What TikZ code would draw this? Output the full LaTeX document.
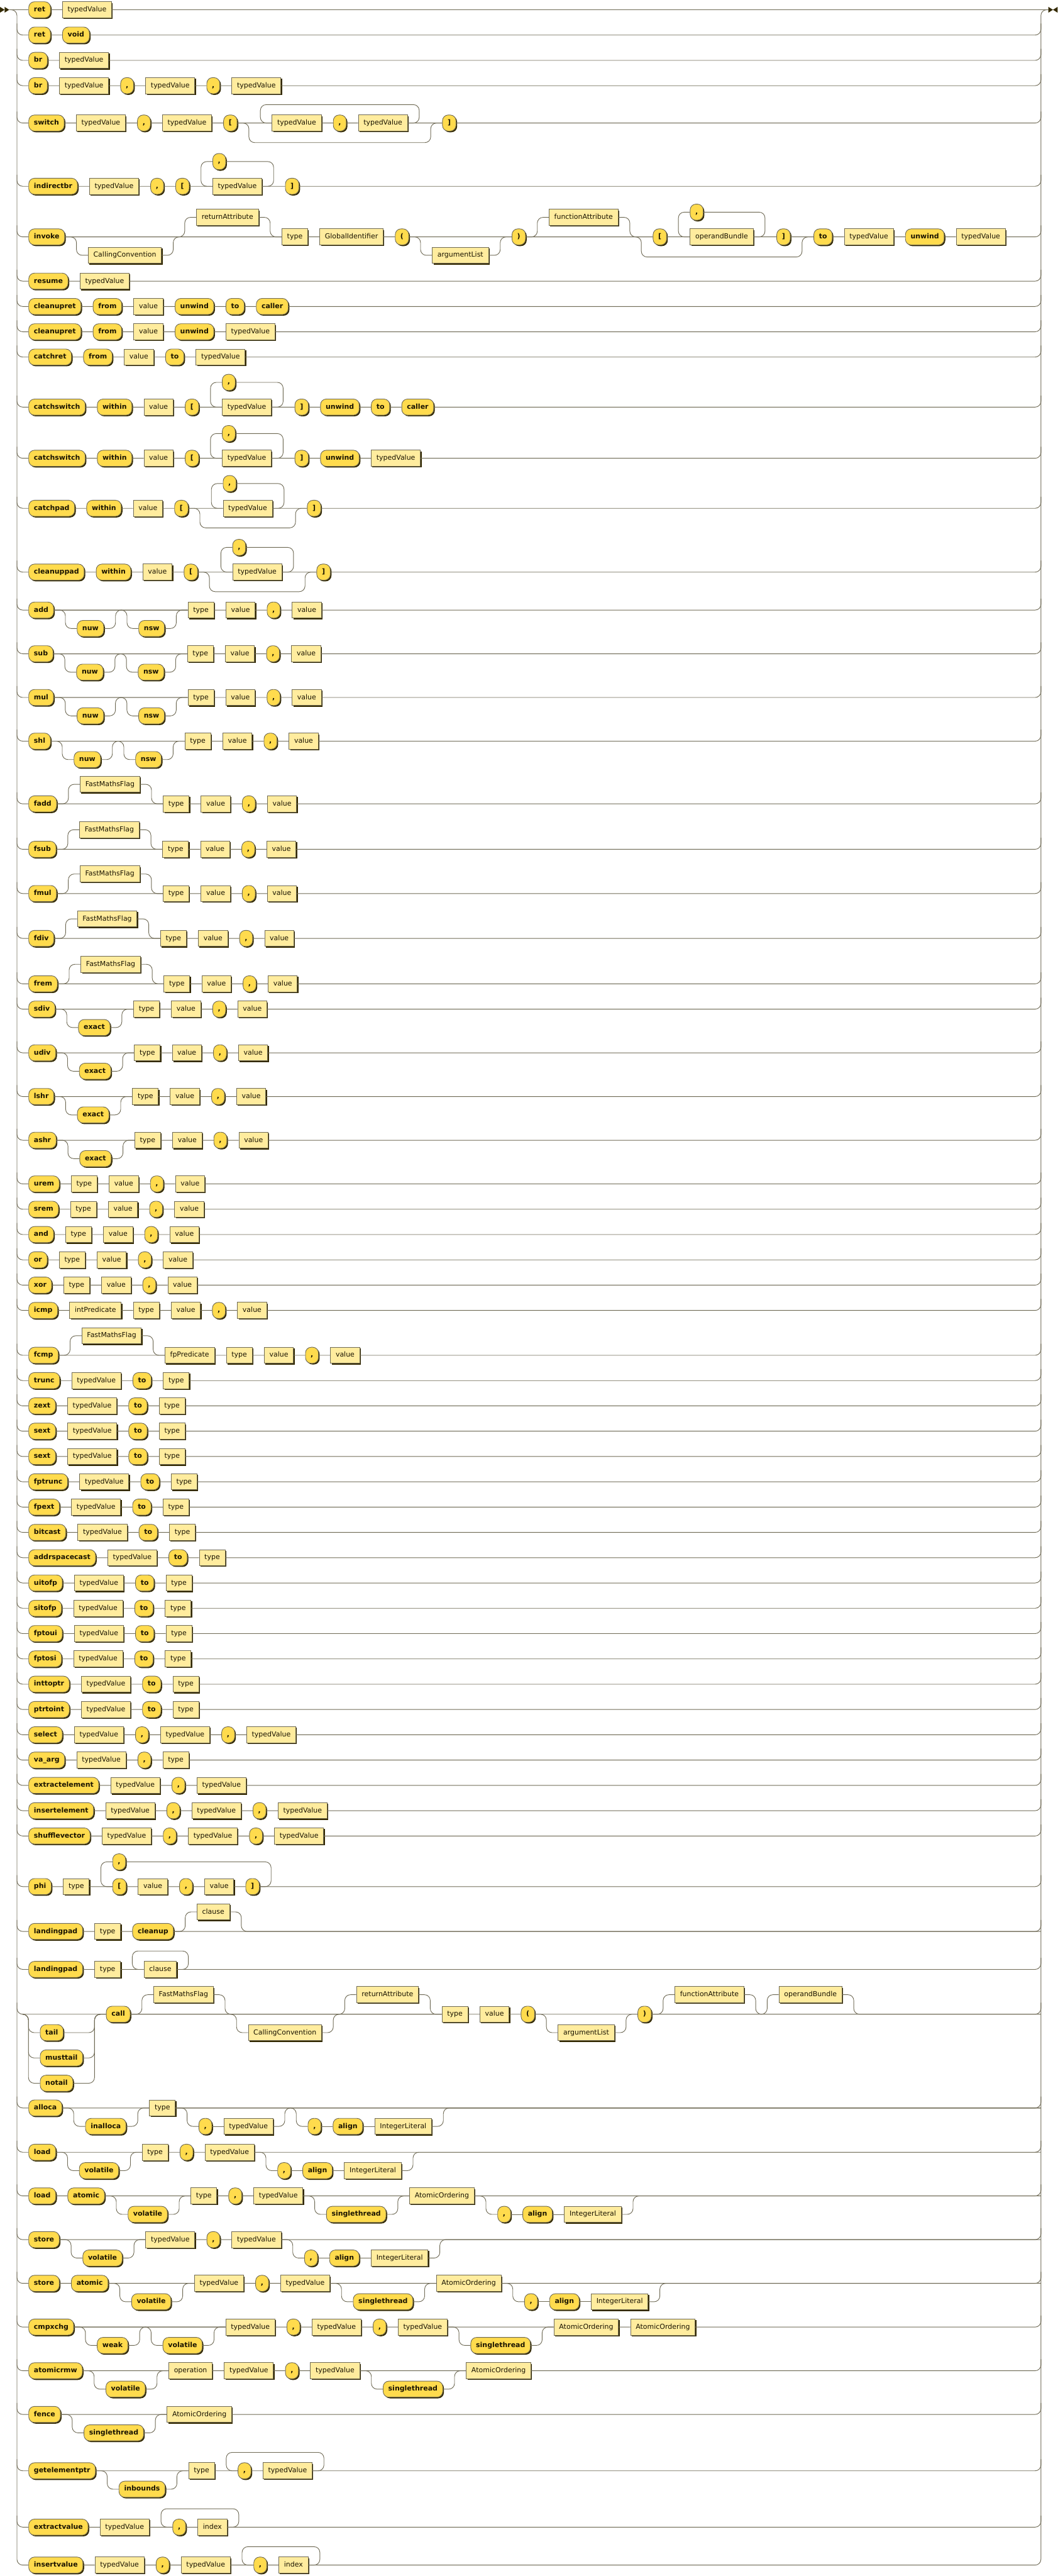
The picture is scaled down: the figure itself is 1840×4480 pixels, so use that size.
\documentclass[tikz,border=0pt]{standalone}
\usepackage{fontspec}
\setmainfont{DejaVu Sans}
\usepackage{xcolor}
\usetikzlibrary{positioning, shadows}
\definecolor{termfill}{HTML}{FFDB4D}
\definecolor{ntfill}{HTML}{FFEC9E}
\definecolor{trackcol}{HTML}{6F6A55}
\definecolor{shadowcol}{HTML}{332900}
\definecolor{labelcol}{HTML}{1A1400}
\tikzset{
  terminal/.style={rectangle, draw=trackcol, fill=termfill, rounded corners=10pt,
                   line width=1pt, minimum height=28pt, minimum width=22pt,
                   inner xsep=9pt, text height=9pt, text depth=2.5pt, text=labelcol,
                   font=\fontsize{12pt}{14pt}\selectfont\bfseries,
                   drop shadow={shadow xshift=2pt, shadow yshift=-2pt, opacity=1, fill=shadowcol}},
  nonterminal/.style={rectangle, draw=trackcol, fill=ntfill,
                   line width=1pt, minimum height=28pt, minimum width=22pt,
                   inner xsep=9pt, text height=9pt, text depth=2.5pt, text=labelcol,
                   font=\fontsize{12pt}{14pt}\selectfont,
                   drop shadow={shadow xshift=2pt, shadow yshift=-2pt, opacity=1, fill=shadowcol}},
  track/.style={draw=trackcol, line width=1pt, rounded corners=10pt},
  marker/.style={fill=shadowcol},
}
\newcommand{\firstnode}[4]{\node[#1, anchor=west] (#2) at (49.5,#3) {#4};}
\newcommand{\kw}[3]{\node[terminal, right=of #2] (#1) {#3};}
\newcommand{\nt}[3]{\node[nonterminal, right=of #2] (#1) {#3};}
% optional item: split off the main line, join back
\newcommand{\optsplit}[2]{\draw[track] (#1.east) -- ([xshift=-20pt]#2.west |- #1) |- (#2.west);}
\newcommand{\optjoin}[2]{\draw[track] (#1.east) -| ([xshift=20pt]#1.east |- #2) -- (#2);}
% repetition: with separator on top, or empty return path
\newcommand{\loopsep}[3]{\draw[track] (#2.east) -- ++(20,0) |- (#3.east);
  \draw[track] (#3.west) -- ++(-20,0) |- (#1.west);}
\newcommand{\loopback}[2]{\draw[track] (#2.east) -- ++(20,0) -- ++(0,-32) -| ([xshift=-20pt]#1.west) -- (#1.west);}
\newcommand{\skipunder}[2]{\draw[track] (#1.east) -- ++(20,0) -- ++(0,34) -| ([xshift=-20pt]#2.west) -- (#2.west);}

\begin{document}
\begin{tikzpicture}[x=1pt, y=-1pt, node distance=20pt]
\useasboundingbox[fill=white] (0,0) rectangle (1840,4480);

\coordinate (begin) at (16,17);
\coordinate (end) at (1824,17);
\fill[marker] (0,12) -- (8,17) -- (0,22) -- cycle;
\fill[marker] (8,12) -- (16,17) -- (8,22) -- cycle;
\fill[marker] (1824,12) -- (1832,17) -- (1824,22) -- cycle;
\fill[marker] (1840,12) -- (1832,17) -- (1840,22) -- cycle;

% ret / br / switch
\firstnode{terminal}{r01a}{17}{ret}
\nt{r01b}{r01a}{typedValue}
\draw[track] (begin) -- (r01a) -- (r01b) -- (end);

\firstnode{terminal}{r02a}{61}{ret}
\kw{r02b}{r02a}{void}
\draw[track] (29.5,61-20) |- (r02a) -- (r02b) -| (1811,61-20);

\firstnode{terminal}{r03a}{105}{br}
\nt{r03b}{r03a}{typedValue}
\draw[track] (29.5,105-20) |- (r03a) -- (r03b) -| (1811,105-20);

\firstnode{terminal}{r04a}{149}{br}
\nt{r04b}{r04a}{typedValue}
\kw{r04c}{r04b}{,}
\nt{r04d}{r04c}{typedValue}
\kw{r04e}{r04d}{,}
\nt{r04f}{r04e}{typedValue}
\draw[track] (29.5,149-20) |- (r04a) -- (r04b) -- (r04c) -- (r04d) -- (r04e) -- (r04f) -| (1811,149-20);

\firstnode{terminal}{r05a}{214}{switch}
\nt{r05b}{r05a}{typedValue}
\kw{r05c}{r05b}{,}
\nt{r05d}{r05c}{typedValue}
\kw{r05e}{r05d}{[}
\node[nonterminal, right=60pt of r05e] (r05f) {typedValue};
\kw{r05g}{r05f}{,}
\nt{r05h}{r05g}{typedValue}
\node[terminal, right=60pt of r05h] (r05i) {]};
\draw[track] (29.5,214-20) |- (r05a) -- (r05b) -- (r05c) -- (r05d) -- (r05e) -- (r05f) -- (r05g) -- (r05h) -- (r05i) -| (1811,214-20);
\loopback{r05f}{r05h}
\skipunder{r05e}{r05i}

\firstnode{terminal}{r06a}{324}{indirectbr}
\nt{r06b}{r06a}{typedValue}
\kw{r06c}{r06b}{,}
\kw{r06d}{r06c}{[}
\node[nonterminal, right=40pt of r06d] (r06e) {typedValue};
\node[terminal, anchor=west] (r06f) at ([yshift=43pt]r06e.west) {,};
\node[terminal, right=40pt of r06e] (r06g) {]};
\draw[track] (29.5,324-20) |- (r06a) -- (r06b) -- (r06c) -- (r06d) -- (r06e) -- (r06g) -| (1811,324-20);
\loopsep{r06e}{r06e}{r06f}

% invoke
\firstnode{terminal}{r07a}{412}{invoke}
\node[nonterminal, right=40pt of r07a, yshift=-32pt] (r07b) {CallingConvention};
\node[nonterminal, right=60pt of r07b, yshift=66pt] (r07c) {returnAttribute};
\node[nonterminal, right=40pt of r07c, yshift=-34pt] (r07d) {type};
\nt{r07e}{r07d}{GlobalIdentifier}
\kw{r07f}{r07e}{(}
\node[nonterminal, right=40pt of r07f, yshift=-32pt] (r07g) {argumentList};
\node[terminal, right=40pt of r07g, yshift=32pt] (r07h) {)};
\node[nonterminal, right=40pt of r07h, yshift=34pt] (r07i) {functionAttribute};
\node[terminal, right=60pt of r07i, yshift=-34pt] (r07j) {[};
\node[nonterminal, right=40pt of r07j] (r07k) {operandBundle};
\node[terminal, anchor=west] (r07l) at ([yshift=43pt]r07k.west) {,};
\node[terminal, right=40pt of r07k] (r07m) {]};
\node[terminal, right=40pt of r07m] (r07n) {to};
\nt{r07o}{r07n}{typedValue}
\kw{r07p}{r07o}{unwind}
\nt{r07q}{r07p}{typedValue}
\draw[track] (29.5,412-20) |- (r07a) -- (r07d) -- (r07e) -- (r07f) -- (r07h) -- (r07j) -- (r07k) -- (r07m) -- (r07n) -- (r07o) -- (r07p) -- (r07q) -| (1811,412-20);
\optsplit{r07a}{r07b}\optjoin{r07b}{r07d}
\optsplit{r07a}{r07c}\optjoin{r07c}{r07d}
\optsplit{r07f}{r07g}\optjoin{r07g}{r07h}
\optsplit{r07h}{r07i}\optjoin{r07i}{r07j}
\loopsep{r07k}{r07k}{r07l}
\draw[track] (r07h.east) -- ([xshift=-20pt]r07j.west |- r07h) -- ++(0,35) -| ([xshift=20pt]r07m.east) -- (r07n.west);

% resume / cleanupret / catchret
\firstnode{terminal}{r08a}{489}{resume}
\nt{r08b}{r08a}{typedValue}
\draw[track] (29.5,489-20) |- (r08a) -- (r08b) -| (1811,489-20);

\firstnode{terminal}{r09a}{533}{cleanupret}
\kw{r09b}{r09a}{from}
\nt{r09c}{r09b}{value}
\kw{r09d}{r09c}{unwind}
\kw{r09e}{r09d}{to}
\kw{r09f}{r09e}{caller}
\draw[track] (29.5,533-20) |- (r09a) -- (r09b) -- (r09c) -- (r09d) -- (r09e) -- (r09f) -| (1811,533-20);

\firstnode{terminal}{r10a}{577}{cleanupret}
\kw{r10b}{r10a}{from}
\nt{r10c}{r10b}{value}
\kw{r10d}{r10c}{unwind}
\nt{r10e}{r10d}{typedValue}
\draw[track] (29.5,577-20) |- (r10a) -- (r10b) -- (r10c) -- (r10d) -- (r10e) -| (1811,577-20);

\firstnode{terminal}{r11a}{621}{catchret}
\kw{r11b}{r11a}{from}
\nt{r11c}{r11b}{value}
\kw{r11d}{r11c}{to}
\nt{r11e}{r11d}{typedValue}
\draw[track] (29.5,621-20) |- (r11a) -- (r11b) -- (r11c) -- (r11d) -- (r11e) -| (1811,621-20);

% catchswitch / catchpad / cleanuppad
\firstnode{terminal}{r12a}{708}{catchswitch}
\kw{r12b}{r12a}{within}
\nt{r12c}{r12b}{value}
\kw{r12d}{r12c}{[}
\node[nonterminal, right=40pt of r12d] (r12e) {typedValue};
\node[terminal, anchor=west] (r12f) at ([yshift=43pt]r12e.west) {,};
\node[terminal, right=40pt of r12e] (r12g) {]};
\kw{r12h}{r12g}{unwind}
\kw{r12i}{r12h}{to}
\kw{r12j}{r12i}{caller}
\draw[track] (29.5,708-20) |- (r12a) -- (r12b) -- (r12c) -- (r12d) -- (r12e) -- (r12g) -- (r12h) -- (r12i) -- (r12j) -| (1811,708-20);
\loopsep{r12e}{r12e}{r12f}

\firstnode{terminal}{r13a}{797}{catchswitch}
\kw{r13b}{r13a}{within}
\nt{r13c}{r13b}{value}
\kw{r13d}{r13c}{[}
\node[nonterminal, right=40pt of r13d] (r13e) {typedValue};
\node[terminal, anchor=west] (r13f) at ([yshift=43pt]r13e.west) {,};
\node[terminal, right=40pt of r13e] (r13g) {]};
\kw{r13h}{r13g}{unwind}
\nt{r13i}{r13h}{typedValue}
\draw[track] (29.5,797-20) |- (r13a) -- (r13b) -- (r13c) -- (r13d) -- (r13e) -- (r13g) -- (r13h) -- (r13i) -| (1811,797-20);
\loopsep{r13e}{r13e}{r13f}

\firstnode{terminal}{r14a}{884}{catchpad}
\kw{r14b}{r14a}{within}
\nt{r14c}{r14b}{value}
\kw{r14d}{r14c}{[}
\node[nonterminal, right=60pt of r14d] (r14e) {typedValue};
\node[terminal, anchor=west] (r14f) at ([yshift=43pt]r14e.west) {,};
\node[terminal, right=60pt of r14e] (r14g) {]};
\draw[track] (29.5,884-20) |- (r14a) -- (r14b) -- (r14c) -- (r14d) -- (r14e) -- (r14g) -| (1811,884-20);
\loopsep{r14e}{r14e}{r14f}
\skipunder{r14d}{r14g}

\firstnode{terminal}{r15a}{995}{cleanuppad}
\kw{r15b}{r15a}{within}
\nt{r15c}{r15b}{value}
\kw{r15d}{r15c}{[}
\node[nonterminal, right=60pt of r15d] (r15e) {typedValue};
\node[terminal, anchor=west] (r15f) at ([yshift=43pt]r15e.west) {,};
\node[terminal, right=60pt of r15e] (r15g) {]};
\draw[track] (29.5,995-20) |- (r15a) -- (r15b) -- (r15c) -- (r15d) -- (r15e) -- (r15g) -| (1811,995-20);
\loopsep{r15e}{r15e}{r15f}
\skipunder{r15d}{r15g}

% integer arithmetic
\firstnode{terminal}{r16a}{1061}{add}
\node[terminal, right=40pt of r16a, yshift=-32pt] (r16b) {nuw};
\node[terminal, right=60pt of r16b] (r16c) {nsw};
\node[nonterminal, right=40pt of r16c, yshift=32pt] (r16d) {type};
\nt{r16e}{r16d}{value}
\kw{r16f}{r16e}{,}
\nt{r16g}{r16f}{value}
\draw[track] (29.5,1061-20) |- (r16a) -- (r16d) -- (r16e) -- (r16f) -- (r16g) -| (1811,1061-20);
\optsplit{r16a}{r16b}\optjoin{r16b}{r16d}\optsplit{r16a}{r16c}\optjoin{r16c}{r16d}

\firstnode{terminal}{r17a}{1137}{sub}
\node[terminal, right=40pt of r17a, yshift=-32pt] (r17b) {nuw};
\node[terminal, right=60pt of r17b] (r17c) {nsw};
\node[nonterminal, right=40pt of r17c, yshift=32pt] (r17d) {type};
\nt{r17e}{r17d}{value}
\kw{r17f}{r17e}{,}
\nt{r17g}{r17f}{value}
\draw[track] (29.5,1137-20) |- (r17a) -- (r17d) -- (r17e) -- (r17f) -- (r17g) -| (1811,1137-20);
\optsplit{r17a}{r17b}\optjoin{r17b}{r17d}\optsplit{r17a}{r17c}\optjoin{r17c}{r17d}

\firstnode{terminal}{r18a}{1213}{mul}
\node[terminal, right=40pt of r18a, yshift=-32pt] (r18b) {nuw};
\node[terminal, right=60pt of r18b] (r18c) {nsw};
\node[nonterminal, right=40pt of r18c, yshift=32pt] (r18d) {type};
\nt{r18e}{r18d}{value}
\kw{r18f}{r18e}{,}
\nt{r18g}{r18f}{value}
\draw[track] (29.5,1213-20) |- (r18a) -- (r18d) -- (r18e) -- (r18f) -- (r18g) -| (1811,1213-20);
\optsplit{r18a}{r18b}\optjoin{r18b}{r18d}\optsplit{r18a}{r18c}\optjoin{r18c}{r18d}

\firstnode{terminal}{r19a}{1289}{shl}
\node[terminal, right=40pt of r19a, yshift=-32pt] (r19b) {nuw};
\node[terminal, right=60pt of r19b] (r19c) {nsw};
\node[nonterminal, right=40pt of r19c, yshift=32pt] (r19d) {type};
\nt{r19e}{r19d}{value}
\kw{r19f}{r19e}{,}
\nt{r19g}{r19f}{value}
\draw[track] (29.5,1289-20) |- (r19a) -- (r19d) -- (r19e) -- (r19f) -- (r19g) -| (1811,1289-20);
\optsplit{r19a}{r19b}\optjoin{r19b}{r19d}\optsplit{r19a}{r19c}\optjoin{r19c}{r19d}

% floating point arithmetic
\firstnode{terminal}{r20a}{1398}{fadd}
\node[nonterminal, right=40pt of r20a, yshift=34pt] (r20b) {FastMathsFlag};
\node[nonterminal, right=40pt of r20b, yshift=-34pt] (r20c) {type};
\nt{r20d}{r20c}{value}
\kw{r20e}{r20d}{,}
\nt{r20f}{r20e}{value}
\draw[track] (29.5,1398-20) |- (r20a) -- (r20c) -- (r20d) -- (r20e) -- (r20f) -| (1811,1398-20);
\optsplit{r20a}{r20b}\optjoin{r20b}{r20c}

\firstnode{terminal}{r21a}{1477}{fsub}
\node[nonterminal, right=40pt of r21a, yshift=34pt] (r21b) {FastMathsFlag};
\node[nonterminal, right=40pt of r21b, yshift=-34pt] (r21c) {type};
\nt{r21d}{r21c}{value}
\kw{r21e}{r21d}{,}
\nt{r21f}{r21e}{value}
\draw[track] (29.5,1477-20) |- (r21a) -- (r21c) -- (r21d) -- (r21e) -- (r21f) -| (1811,1477-20);
\optsplit{r21a}{r21b}\optjoin{r21b}{r21c}

\firstnode{terminal}{r22a}{1554}{fmul}
\node[nonterminal, right=40pt of r22a, yshift=34pt] (r22b) {FastMathsFlag};
\node[nonterminal, right=40pt of r22b, yshift=-34pt] (r22c) {type};
\nt{r22d}{r22c}{value}
\kw{r22e}{r22d}{,}
\nt{r22f}{r22e}{value}
\draw[track] (29.5,1554-20) |- (r22a) -- (r22c) -- (r22d) -- (r22e) -- (r22f) -| (1811,1554-20);
\optsplit{r22a}{r22b}\optjoin{r22b}{r22c}

\firstnode{terminal}{r23a}{1632}{fdiv}
\node[nonterminal, right=40pt of r23a, yshift=34pt] (r23b) {FastMathsFlag};
\node[nonterminal, right=40pt of r23b, yshift=-34pt] (r23c) {type};
\nt{r23d}{r23c}{value}
\kw{r23e}{r23d}{,}
\nt{r23f}{r23e}{value}
\draw[track] (29.5,1632-20) |- (r23a) -- (r23c) -- (r23d) -- (r23e) -- (r23f) -| (1811,1632-20);
\optsplit{r23a}{r23b}\optjoin{r23b}{r23c}

\firstnode{terminal}{r24a}{1711}{frem}
\node[nonterminal, right=40pt of r24a, yshift=34pt] (r24b) {FastMathsFlag};
\node[nonterminal, right=40pt of r24b, yshift=-34pt] (r24c) {type};
\nt{r24d}{r24c}{value}
\kw{r24e}{r24d}{,}
\nt{r24f}{r24e}{value}
\draw[track] (29.5,1711-20) |- (r24a) -- (r24c) -- (r24d) -- (r24e) -- (r24f) -| (1811,1711-20);
\optsplit{r24a}{r24b}\optjoin{r24b}{r24c}

% division and shifts
\firstnode{terminal}{r25a}{1755}{sdiv}
\node[terminal, right=40pt of r25a, yshift=-32pt] (r25b) {exact};
\node[nonterminal, right=40pt of r25b, yshift=32pt] (r25c) {type};
\nt{r25d}{r25c}{value}
\kw{r25e}{r25d}{,}
\nt{r25f}{r25e}{value}
\draw[track] (29.5,1755-20) |- (r25a) -- (r25c) -- (r25d) -- (r25e) -- (r25f) -| (1811,1755-20);
\optsplit{r25a}{r25b}\optjoin{r25b}{r25c}

\firstnode{terminal}{r26a}{1831}{udiv}
\node[terminal, right=40pt of r26a, yshift=-32pt] (r26b) {exact};
\node[nonterminal, right=40pt of r26b, yshift=32pt] (r26c) {type};
\nt{r26d}{r26c}{value}
\kw{r26e}{r26d}{,}
\nt{r26f}{r26e}{value}
\draw[track] (29.5,1831-20) |- (r26a) -- (r26c) -- (r26d) -- (r26e) -- (r26f) -| (1811,1831-20);
\optsplit{r26a}{r26b}\optjoin{r26b}{r26c}

\firstnode{terminal}{r27a}{1907}{lshr}
\node[terminal, right=40pt of r27a, yshift=-32pt] (r27b) {exact};
\node[nonterminal, right=40pt of r27b, yshift=32pt] (r27c) {type};
\nt{r27d}{r27c}{value}
\kw{r27e}{r27d}{,}
\nt{r27f}{r27e}{value}
\draw[track] (29.5,1907-20) |- (r27a) -- (r27c) -- (r27d) -- (r27e) -- (r27f) -| (1811,1907-20);
\optsplit{r27a}{r27b}\optjoin{r27b}{r27c}

\firstnode{terminal}{r28a}{1983}{ashr}
\node[terminal, right=40pt of r28a, yshift=-32pt] (r28b) {exact};
\node[nonterminal, right=40pt of r28b, yshift=32pt] (r28c) {type};
\nt{r28d}{r28c}{value}
\kw{r28e}{r28d}{,}
\nt{r28f}{r28e}{value}
\draw[track] (29.5,1983-20) |- (r28a) -- (r28c) -- (r28d) -- (r28e) -- (r28f) -| (1811,1983-20);
\optsplit{r28a}{r28b}\optjoin{r28b}{r28c}

% remainder and bitwise
\firstnode{terminal}{r29a}{2059}{urem}
\nt{r29b}{r29a}{type}
\nt{r29c}{r29b}{value}
\kw{r29d}{r29c}{,}
\nt{r29e}{r29d}{value}
\draw[track] (29.5,2059-20) |- (r29a) -- (r29b) -- (r29c) -- (r29d) -- (r29e) -| (1811,2059-20);

\firstnode{terminal}{r30a}{2103}{srem}
\nt{r30b}{r30a}{type}
\nt{r30c}{r30b}{value}
\kw{r30d}{r30c}{,}
\nt{r30e}{r30d}{value}
\draw[track] (29.5,2103-20) |- (r30a) -- (r30b) -- (r30c) -- (r30d) -- (r30e) -| (1811,2103-20);

\firstnode{terminal}{r31a}{2147}{and}
\nt{r31b}{r31a}{type}
\nt{r31c}{r31b}{value}
\kw{r31d}{r31c}{,}
\nt{r31e}{r31d}{value}
\draw[track] (29.5,2147-20) |- (r31a) -- (r31b) -- (r31c) -- (r31d) -- (r31e) -| (1811,2147-20);

\firstnode{terminal}{r32a}{2191}{or}
\nt{r32b}{r32a}{type}
\nt{r32c}{r32b}{value}
\kw{r32d}{r32c}{,}
\nt{r32e}{r32d}{value}
\draw[track] (29.5,2191-20) |- (r32a) -- (r32b) -- (r32c) -- (r32d) -- (r32e) -| (1811,2191-20);

\firstnode{terminal}{r33a}{2235}{xor}
\nt{r33b}{r33a}{type}
\nt{r33c}{r33b}{value}
\kw{r33d}{r33c}{,}
\nt{r33e}{r33d}{value}
\draw[track] (29.5,2235-20) |- (r33a) -- (r33b) -- (r33c) -- (r33d) -- (r33e) -| (1811,2235-20);

% compare
\firstnode{terminal}{r34a}{2279}{icmp}
\nt{r34b}{r34a}{intPredicate}
\nt{r34c}{r34b}{type}
\nt{r34d}{r34c}{value}
\kw{r34e}{r34d}{,}
\nt{r34f}{r34e}{value}
\draw[track] (29.5,2279-20) |- (r34a) -- (r34b) -- (r34c) -- (r34d) -- (r34e) -- (r34f) -| (1811,2279-20);

\firstnode{terminal}{r35a}{2357}{fcmp}
\node[nonterminal, right=40pt of r35a, yshift=34pt] (r35b) {FastMathsFlag};
\node[nonterminal, right=40pt of r35b, yshift=-34pt] (r35c) {fpPredicate};
\nt{r35d}{r35c}{type}
\nt{r35e}{r35d}{value}
\kw{r35f}{r35e}{,}
\nt{r35g}{r35f}{value}
\draw[track] (29.5,2357-20) |- (r35a) -- (r35c) -- (r35d) -- (r35e) -- (r35f) -- (r35g) -| (1811,2357-20);
\optsplit{r35a}{r35b}\optjoin{r35b}{r35c}

% conversions
\firstnode{terminal}{r36a}{2401}{trunc}
\nt{r36b}{r36a}{typedValue}
\kw{r36c}{r36b}{to}
\nt{r36d}{r36c}{type}
\draw[track] (29.5,2401-20) |- (r36a) -- (r36b) -- (r36c) -- (r36d) -| (1811,2401-20);

\firstnode{terminal}{r37a}{2445}{zext}
\nt{r37b}{r37a}{typedValue}
\kw{r37c}{r37b}{to}
\nt{r37d}{r37c}{type}
\draw[track] (29.5,2445-20) |- (r37a) -- (r37b) -- (r37c) -- (r37d) -| (1811,2445-20);

\firstnode{terminal}{r38a}{2489}{sext}
\nt{r38b}{r38a}{typedValue}
\kw{r38c}{r38b}{to}
\nt{r38d}{r38c}{type}
\draw[track] (29.5,2489-20) |- (r38a) -- (r38b) -- (r38c) -- (r38d) -| (1811,2489-20);

\firstnode{terminal}{r39a}{2533}{sext}
\nt{r39b}{r39a}{typedValue}
\kw{r39c}{r39b}{to}
\nt{r39d}{r39c}{type}
\draw[track] (29.5,2533-20) |- (r39a) -- (r39b) -- (r39c) -- (r39d) -| (1811,2533-20);

\firstnode{terminal}{r40a}{2577}{fptrunc}
\nt{r40b}{r40a}{typedValue}
\kw{r40c}{r40b}{to}
\nt{r40d}{r40c}{type}
\draw[track] (29.5,2577-20) |- (r40a) -- (r40b) -- (r40c) -- (r40d) -| (1811,2577-20);

\firstnode{terminal}{r41a}{2621}{fpext}
\nt{r41b}{r41a}{typedValue}
\kw{r41c}{r41b}{to}
\nt{r41d}{r41c}{type}
\draw[track] (29.5,2621-20) |- (r41a) -- (r41b) -- (r41c) -- (r41d) -| (1811,2621-20);

\firstnode{terminal}{r42a}{2665}{bitcast}
\nt{r42b}{r42a}{typedValue}
\kw{r42c}{r42b}{to}
\nt{r42d}{r42c}{type}
\draw[track] (29.5,2665-20) |- (r42a) -- (r42b) -- (r42c) -- (r42d) -| (1811,2665-20);

\firstnode{terminal}{r43a}{2709}{addrspacecast}
\nt{r43b}{r43a}{typedValue}
\kw{r43c}{r43b}{to}
\nt{r43d}{r43c}{type}
\draw[track] (29.5,2709-20) |- (r43a) -- (r43b) -- (r43c) -- (r43d) -| (1811,2709-20);

\firstnode{terminal}{r44a}{2753}{uitofp}
\nt{r44b}{r44a}{typedValue}
\kw{r44c}{r44b}{to}
\nt{r44d}{r44c}{type}
\draw[track] (29.5,2753-20) |- (r44a) -- (r44b) -- (r44c) -- (r44d) -| (1811,2753-20);

\firstnode{terminal}{r45a}{2797}{sitofp}
\nt{r45b}{r45a}{typedValue}
\kw{r45c}{r45b}{to}
\nt{r45d}{r45c}{type}
\draw[track] (29.5,2797-20) |- (r45a) -- (r45b) -- (r45c) -- (r45d) -| (1811,2797-20);

\firstnode{terminal}{r46a}{2841}{fptoui}
\nt{r46b}{r46a}{typedValue}
\kw{r46c}{r46b}{to}
\nt{r46d}{r46c}{type}
\draw[track] (29.5,2841-20) |- (r46a) -- (r46b) -- (r46c) -- (r46d) -| (1811,2841-20);

\firstnode{terminal}{r47a}{2885}{fptosi}
\nt{r47b}{r47a}{typedValue}
\kw{r47c}{r47b}{to}
\nt{r47d}{r47c}{type}
\draw[track] (29.5,2885-20) |- (r47a) -- (r47b) -- (r47c) -- (r47d) -| (1811,2885-20);

\firstnode{terminal}{r48a}{2929}{inttoptr}
\nt{r48b}{r48a}{typedValue}
\kw{r48c}{r48b}{to}
\nt{r48d}{r48c}{type}
\draw[track] (29.5,2929-20) |- (r48a) -- (r48b) -- (r48c) -- (r48d) -| (1811,2929-20);

\firstnode{terminal}{r49a}{2973}{ptrtoint}
\nt{r49b}{r49a}{typedValue}
\kw{r49c}{r49b}{to}
\nt{r49d}{r49c}{type}
\draw[track] (29.5,2973-20) |- (r49a) -- (r49b) -- (r49c) -- (r49d) -| (1811,2973-20);

% select / vector ops
\firstnode{terminal}{r50a}{3017}{select}
\nt{r50b}{r50a}{typedValue}
\kw{r50c}{r50b}{,}
\nt{r50d}{r50c}{typedValue}
\kw{r50e}{r50d}{,}
\nt{r50f}{r50e}{typedValue}
\draw[track] (29.5,3017-20) |- (r50a) -- (r50b) -- (r50c) -- (r50d) -- (r50e) -- (r50f) -| (1811,3017-20);

\firstnode{terminal}{r51a}{3061}{va\_arg}
\nt{r51b}{r51a}{typedValue}
\kw{r51c}{r51b}{,}
\nt{r51d}{r51c}{type}
\draw[track] (29.5,3061-20) |- (r51a) -- (r51b) -- (r51c) -- (r51d) -| (1811,3061-20);

\firstnode{terminal}{r52a}{3105}{extractelement}
\nt{r52b}{r52a}{typedValue}
\kw{r52c}{r52b}{,}
\nt{r52d}{r52c}{typedValue}
\draw[track] (29.5,3105-20) |- (r52a) -- (r52b) -- (r52c) -- (r52d) -| (1811,3105-20);

\firstnode{terminal}{r53a}{3149}{insertelement}
\nt{r53b}{r53a}{typedValue}
\kw{r53c}{r53b}{,}
\nt{r53d}{r53c}{typedValue}
\kw{r53e}{r53d}{,}
\nt{r53f}{r53e}{typedValue}
\draw[track] (29.5,3149-20) |- (r53a) -- (r53b) -- (r53c) -- (r53d) -- (r53e) -- (r53f) -| (1811,3149-20);

\firstnode{terminal}{r54a}{3193}{shufflevector}
\nt{r54b}{r54a}{typedValue}
\kw{r54c}{r54b}{,}
\nt{r54d}{r54c}{typedValue}
\kw{r54e}{r54d}{,}
\nt{r54f}{r54e}{typedValue}
\draw[track] (29.5,3193-20) |- (r54a) -- (r54b) -- (r54c) -- (r54d) -- (r54e) -- (r54f) -| (1811,3193-20);

% phi / landingpad
\firstnode{terminal}{r55a}{3281}{phi}
\nt{r55b}{r55a}{type}
\node[terminal, right=40pt of r55b] (r55c) {[};
\nt{r55d}{r55c}{value}
\kw{r55e}{r55d}{,}
\nt{r55f}{r55e}{value}
\kw{r55g}{r55f}{]}
\node[terminal, anchor=west] (r55h) at ([yshift=43pt]r55c.west) {,};
\draw[track] (29.5,3281-20) |- (r55a) -- (r55b) -- (r55c) -- (r55d) -- (r55e) -- (r55f) -- (r55g) -| (1811,3281-20);
\loopsep{r55c}{r55g}{r55h}

\firstnode{terminal}{r56a}{3359}{landingpad}
\nt{r56b}{r56a}{type}
\kw{r56c}{r56b}{cleanup}
\node[nonterminal, right=40pt of r56c, yshift=34pt] (r56d) {clause};
\coordinate (r56z) at (1811,3359);
\draw[track] (29.5,3359-20) |- (r56a) -- (r56b) -- (r56c) -| (1811,3359-20);
\optsplit{r56c}{r56d}\optjoin{r56d}{r56z}

\firstnode{terminal}{r57a}{3425}{landingpad}
\nt{r57b}{r57a}{type}
\node[nonterminal, right=40pt of r57b] (r57c) {clause};
\draw[track] (29.5,3425-20) |- (r57a) -- (r57b) -- (r57c) -| (1811,3425-20);
\loopback{r57c}{r57c}

% call
\node[terminal, anchor=west] (r58a) at (69.5,3535) {tail};
\node[terminal, anchor=west] (r58b) at (69.5,3579) {musttail};
\node[terminal, anchor=west] (r58c) at (69.5,3623) {notail};
\node[terminal, right=40pt of r58b, yshift=76pt] (r58d) {call};
\node[nonterminal, right=40pt of r58d, yshift=34pt] (r58e) {FastMathsFlag};
\node[nonterminal, right=60pt of r58e, yshift=-66pt] (r58f) {CallingConvention};
\node[nonterminal, right=60pt of r58f, yshift=66pt] (r58g) {returnAttribute};
\node[nonterminal, right=40pt of r58g, yshift=-34pt] (r58h) {type};
\nt{r58i}{r58h}{value}
\kw{r58j}{r58i}{(}
\node[nonterminal, right=40pt of r58j, yshift=-32pt] (r58k) {argumentList};
\node[terminal, right=40pt of r58k, yshift=32pt] (r58l) {)};
\node[nonterminal, right=40pt of r58l, yshift=34pt] (r58m) {functionAttribute};
\node[nonterminal, right=60pt of r58m] (r58n) {operandBundle};
\coordinate (r58z) at (1811,3503);
\draw[track] (29.5,3503-20) |- (r58d) -- (r58h) -- (r58i) -- (r58j) -- (r58l) -| (1811,3503-20);
\draw[track] (39.5,3503) -| ([xshift=-20pt]r58a.west) -- (r58a.west);
\draw[track] (39.5,3503) -| ([xshift=-20pt]r58b.west) -- (r58b.west);
\draw[track] (39.5,3503) -| ([xshift=-20pt]r58c.west) -- (r58c.west);
\draw[track] (r58a.east) -| ([xshift=20pt]r58b.east |- r58d) -- (r58d);
\draw[track] (r58b.east) -| ([xshift=20pt]r58b.east |- r58d) -- (r58d);
\draw[track] (r58c.east) -| ([xshift=20pt]r58b.east |- r58d) -- (r58d);
\optsplit{r58d}{r58e}\optjoin{r58e}{r58h}
\optsplit{r58d}{r58f}\optjoin{r58f}{r58h}
\optsplit{r58d}{r58g}\optjoin{r58g}{r58h}
\optsplit{r58j}{r58k}\optjoin{r58k}{r58l}
\optsplit{r58l}{r58m}\optjoin{r58m}{r58z}
\optsplit{r58l}{r58n}\optjoin{r58n}{r58z}

% alloca / load / store
\firstnode{terminal}{r59a}{3666}{alloca}
\node[terminal, right=40pt of r59a, yshift=-32pt] (r59b) {inalloca};
\node[nonterminal, right=40pt of r59b, yshift=32pt] (r59c) {type};
\node[terminal, right=40pt of r59c, yshift=-32pt] (r59d) {,};
\nt{r59e}{r59d}{typedValue}
\node[terminal, right=60pt of r59e] (r59f) {,};
\kw{r59g}{r59f}{align}
\nt{r59h}{r59g}{IntegerLiteral}
\coordinate (r59z) at (1811,3666);
\draw[track] (29.5,3666-20) |- (r59a) -- (r59c) -| (1811,3666-20);
\optsplit{r59a}{r59b}\optjoin{r59b}{r59c}
\optsplit{r59c}{r59d}\draw[track] (r59d) -- (r59e);\optjoin{r59e}{r59z}
\optsplit{r59c}{r59f}\draw[track] (r59f) -- (r59g) -- (r59h);\optjoin{r59h}{r59z}

\firstnode{terminal}{r60a}{3743}{load}
\node[terminal, right=40pt of r60a, yshift=-32pt] (r60b) {volatile};
\node[nonterminal, right=40pt of r60b, yshift=32pt] (r60c) {type};
\kw{r60d}{r60c}{,}
\nt{r60e}{r60d}{typedValue}
\node[terminal, right=40pt of r60e, yshift=-32pt] (r60f) {,};
\kw{r60g}{r60f}{align}
\nt{r60h}{r60g}{IntegerLiteral}
\coordinate (r60z) at (1811,3743);
\draw[track] (29.5,3743-20) |- (r60a) -- (r60c) -- (r60d) -- (r60e) -| (1811,3743-20);
\optsplit{r60a}{r60b}\optjoin{r60b}{r60c}
\optsplit{r60e}{r60f}\draw[track] (r60f) -- (r60g) -- (r60h);\optjoin{r60h}{r60z}

\firstnode{terminal}{r61a}{3819}{load}
\kw{r61b}{r61a}{atomic}
\node[terminal, right=40pt of r61b, yshift=-32pt] (r61c) {volatile};
\node[nonterminal, right=40pt of r61c, yshift=32pt] (r61d) {type};
\kw{r61e}{r61d}{,}
\nt{r61f}{r61e}{typedValue}
\node[terminal, right=40pt of r61f, yshift=-32pt] (r61g) {singlethread};
\node[nonterminal, right=40pt of r61g, yshift=32pt] (r61h) {AtomicOrdering};
\node[terminal, right=40pt of r61h, yshift=-32pt] (r61i) {,};
\kw{r61j}{r61i}{align}
\nt{r61k}{r61j}{IntegerLiteral}
\coordinate (r61z) at (1811,3819);
\draw[track] (29.5,3819-20) |- (r61a) -- (r61b) -- (r61d) -- (r61e) -- (r61f) -- (r61h) -| (1811,3819-20);
\optsplit{r61b}{r61c}\optjoin{r61c}{r61d}
\optsplit{r61f}{r61g}\optjoin{r61g}{r61h}
\optsplit{r61h}{r61i}\draw[track] (r61i) -- (r61j) -- (r61k);\optjoin{r61k}{r61z}

\firstnode{terminal}{r62a}{3895}{store}
\node[terminal, right=40pt of r62a, yshift=-32pt] (r62b) {volatile};
\node[nonterminal, right=40pt of r62b, yshift=32pt] (r62c) {typedValue};
\kw{r62d}{r62c}{,}
\nt{r62e}{r62d}{typedValue}
\node[terminal, right=40pt of r62e, yshift=-32pt] (r62f) {,};
\kw{r62g}{r62f}{align}
\nt{r62h}{r62g}{IntegerLiteral}
\coordinate (r62z) at (1811,3895);
\draw[track] (29.5,3895-20) |- (r62a) -- (r62c) -- (r62d) -- (r62e) -| (1811,3895-20);
\optsplit{r62a}{r62b}\optjoin{r62b}{r62c}
\optsplit{r62e}{r62f}\draw[track] (r62f) -- (r62g) -- (r62h);\optjoin{r62h}{r62z}

\firstnode{terminal}{r63a}{3971}{store}
\kw{r63b}{r63a}{atomic}
\node[terminal, right=40pt of r63b, yshift=-32pt] (r63c) {volatile};
\node[nonterminal, right=40pt of r63c, yshift=32pt] (r63d) {typedValue};
\kw{r63e}{r63d}{,}
\nt{r63f}{r63e}{typedValue}
\node[terminal, right=40pt of r63f, yshift=-32pt] (r63g) {singlethread};
\node[nonterminal, right=40pt of r63g, yshift=32pt] (r63h) {AtomicOrdering};
\node[terminal, right=40pt of r63h, yshift=-32pt] (r63i) {,};
\kw{r63j}{r63i}{align}
\nt{r63k}{r63j}{IntegerLiteral}
\coordinate (r63z) at (1811,3971);
\draw[track] (29.5,3971-20) |- (r63a) -- (r63b) -- (r63d) -- (r63e) -- (r63f) -- (r63h) -| (1811,3971-20);
\optsplit{r63b}{r63c}\optjoin{r63c}{r63d}
\optsplit{r63f}{r63g}\optjoin{r63g}{r63h}
\optsplit{r63h}{r63i}\draw[track] (r63i) -- (r63j) -- (r63k);\optjoin{r63k}{r63z}

% atomics
\firstnode{terminal}{r64a}{4047}{cmpxchg}
\node[terminal, right=40pt of r64a, yshift=-32pt] (r64b) {weak};
\node[terminal, right=60pt of r64b] (r64c) {volatile};
\node[nonterminal, right=40pt of r64c, yshift=32pt] (r64d) {typedValue};
\kw{r64e}{r64d}{,}
\nt{r64f}{r64e}{typedValue}
\kw{r64g}{r64f}{,}
\nt{r64h}{r64g}{typedValue}
\node[terminal, right=40pt of r64h, yshift=-32pt] (r64i) {singlethread};
\node[nonterminal, right=40pt of r64i, yshift=32pt] (r64j) {AtomicOrdering};
\nt{r64k}{r64j}{AtomicOrdering}
\draw[track] (29.5,4047-20) |- (r64a) -- (r64d) -- (r64e) -- (r64f) -- (r64g) -- (r64h) -- (r64j) -- (r64k) -| (1811,4047-20);
\optsplit{r64a}{r64b}\optjoin{r64b}{r64d}
\optsplit{r64a}{r64c}\optjoin{r64c}{r64d}
\optsplit{r64h}{r64i}\optjoin{r64i}{r64j}

\firstnode{terminal}{r65a}{4123}{atomicrmw}
\node[terminal, right=40pt of r65a, yshift=-32pt] (r65b) {volatile};
\node[nonterminal, right=40pt of r65b, yshift=32pt] (r65c) {operation};
\nt{r65d}{r65c}{typedValue}
\kw{r65e}{r65d}{,}
\nt{r65f}{r65e}{typedValue}
\node[terminal, right=40pt of r65f, yshift=-32pt] (r65g) {singlethread};
\node[nonterminal, right=40pt of r65g, yshift=32pt] (r65h) {AtomicOrdering};
\draw[track] (29.5,4123-20) |- (r65a) -- (r65c) -- (r65d) -- (r65e) -- (r65f) -- (r65h) -| (1811,4123-20);
\optsplit{r65a}{r65b}\optjoin{r65b}{r65c}
\optsplit{r65f}{r65g}\optjoin{r65g}{r65h}

\firstnode{terminal}{r66a}{4199}{fence}
\node[terminal, right=40pt of r66a, yshift=-32pt] (r66b) {singlethread};
\node[nonterminal, right=40pt of r66b, yshift=32pt] (r66c) {AtomicOrdering};
\draw[track] (29.5,4199-20) |- (r66a) -- (r66c) -| (1811,4199-20);
\optsplit{r66a}{r66b}\optjoin{r66b}{r66c}

% aggregates
\firstnode{terminal}{r67a}{4297}{getelementptr}
\node[terminal, right=40pt of r67a, yshift=-32pt] (r67b) {inbounds};
\node[nonterminal, right=40pt of r67b, yshift=32pt] (r67c) {type};
\node[terminal, right=40pt of r67c] (r67d) {,};
\nt{r67e}{r67d}{typedValue}
\draw[track] (29.5,4297-20) |- (r67a) -- (r67c) -- (r67d) -- (r67e) -| (1811,4297-20);
\optsplit{r67a}{r67b}\optjoin{r67b}{r67c}
\loopback{r67d}{r67e}

\firstnode{terminal}{r68a}{4395}{extractvalue}
\nt{r68b}{r68a}{typedValue}
\node[terminal, right=40pt of r68b] (r68c) {,};
\nt{r68d}{r68c}{index}
\draw[track] (29.5,4395-20) |- (r68a) -- (r68b) -- (r68c) -- (r68d) -| (1811,4395-20);
\loopback{r68c}{r68d}

\firstnode{terminal}{r69a}{4461}{insertvalue}
\nt{r69b}{r69a}{typedValue}
\kw{r69c}{r69b}{,}
\nt{r69d}{r69c}{typedValue}
\node[terminal, right=40pt of r69d] (r69e) {,};
\nt{r69f}{r69e}{index}
\draw[track] (begin) -| (29.5,4461) -- (r69a) -- (r69b) -- (r69c) -- (r69d) -- (r69e) -- (r69f) -| (1811,17) -- (end);
\loopback{r69e}{r69f}

\end{tikzpicture}
\end{document}
